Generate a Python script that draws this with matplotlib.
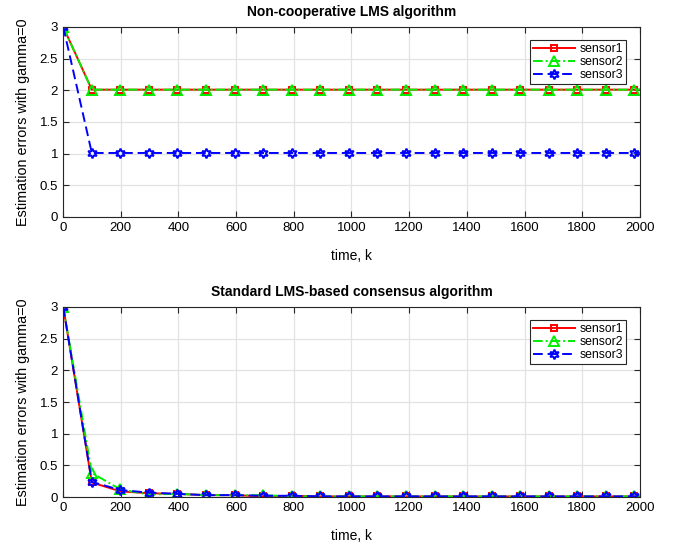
import numpy as np
import matplotlib
matplotlib.use('Agg')
import matplotlib.pyplot as plt

plt.rcParams['font.family'] = ['Liberation Sans', 'DejaVu Sans']

# time samples (last one only extends the line, no marker)
k = [1, 100, 199, 298, 397, 496, 595, 694, 793, 892, 991, 1090, 1189, 1288,
     1387, 1486, 1585, 1684, 1783, 1882, 1981, 2000]

# non-cooperative LMS
nc_sensor1 = [3.0] + [2.01] * 21
nc_sensor2 = [3.0] + [2.01] * 21
nc_sensor3 = [3.0] + [1.01] * 21

# standard LMS-based consensus
cs_sensor1 = [3.0, 0.23, 0.09, 0.06, 0.05, 0.03, 0.03, 0.01, 0.02, 0.01, 0.01,
              0.01, 0.01, 0.01, 0.01, 0.01, 0.01, 0.01, 0.01, 0.01, 0.01, 0.01]
cs_sensor2 = [3.0, 0.38, 0.12, 0.04, 0.05, 0.03, 0.03, 0.03, 0.01, 0.01, 0.01,
              0.01, 0.01, 0.01, 0.01, 0.01, 0.01, 0.01, 0.01, 0.01, 0.01, 0.01]
cs_sensor3 = [3.0, 0.24, 0.11, 0.07, 0.05, 0.03, 0.03, 0.02, 0.02, 0.01, 0.01,
              0.01, 0.01, 0.01, 0.01, 0.01, 0.01, 0.01, 0.01, 0.01, 0.01, 0.01]

labels = ['sensor1', 'sensor2', 'sensor3']
titles = ['Non-cooperative LMS algorithm', 'Standard LMS-based consensus algorithm']
styles = [dict(color='red', ls='-', marker='s', ms=5),
          dict(color='#00ee00', ls=(0, (5, 1.5, 1, 1.5)), marker='^', ms=7),
          dict(color='blue', ls=(0, (5, 2.5)), marker=(6, 1, 0), ms=7)]

fig = plt.figure(figsize=(6.75, 5.45), dpi=100)
ax1 = fig.add_axes([0.0933, 0.602, 0.8547, 0.3485])
ax2 = fig.add_axes([0.0933, 0.088, 0.8547, 0.3487])

for ax, title, data in [(ax1, titles[0], [nc_sensor1, nc_sensor2, nc_sensor3]),
                        (ax2, titles[1], [cs_sensor1, cs_sensor2, cs_sensor3])]:
    for y, lab, st in zip(data, labels, styles):
        ax.plot(k, y, color=st['color'], ls=st['ls'], lw=1.4, marker=st['marker'],
                ms=st['ms'], mfc='none', mew=1.4, markevery=list(range(21)), label=lab)
    ax.set_xlim(0, 2000)
    ax.set_ylim(0, 3)
    ax.set_xticks(np.arange(0, 2001, 200))
    ax.set_yticks([0, 0.5, 1, 1.5, 2, 2.5, 3])
    ax.set_yticklabels(['0', '0.5', '1', '1.5', '2', '2.5', '3'])
    ax.grid(True, color='#e3e3e3', lw=0.9)
    ax.set_axisbelow(True)
    ax.tick_params(direction='in', length=4, top=True, right=True, labelsize=9.5,
                   color='#262626', width=0.8)
    for s in ax.spines.values():
        s.set_color('#262626')
        s.set_linewidth(0.8)
    ax.set_title(title, fontsize=10, fontweight='bold', pad=8)
    ax.set_xlabel('time, k', fontsize=10, labelpad=11)
    ax.set_ylabel('Estimation errors with gamma=0', fontsize=10.4, labelpad=7)
    leg = ax.legend(loc='upper right', bbox_to_anchor=(0.987, 0.965), fontsize=8.8,
                    fancybox=False, framealpha=1, edgecolor='#262626',
                    handlelength=3.4, borderpad=0.25, labelspacing=0.1, handletextpad=0.4)
    leg.get_frame().set_linewidth(0.8)

fig.savefig('out.png', dpi=100)
